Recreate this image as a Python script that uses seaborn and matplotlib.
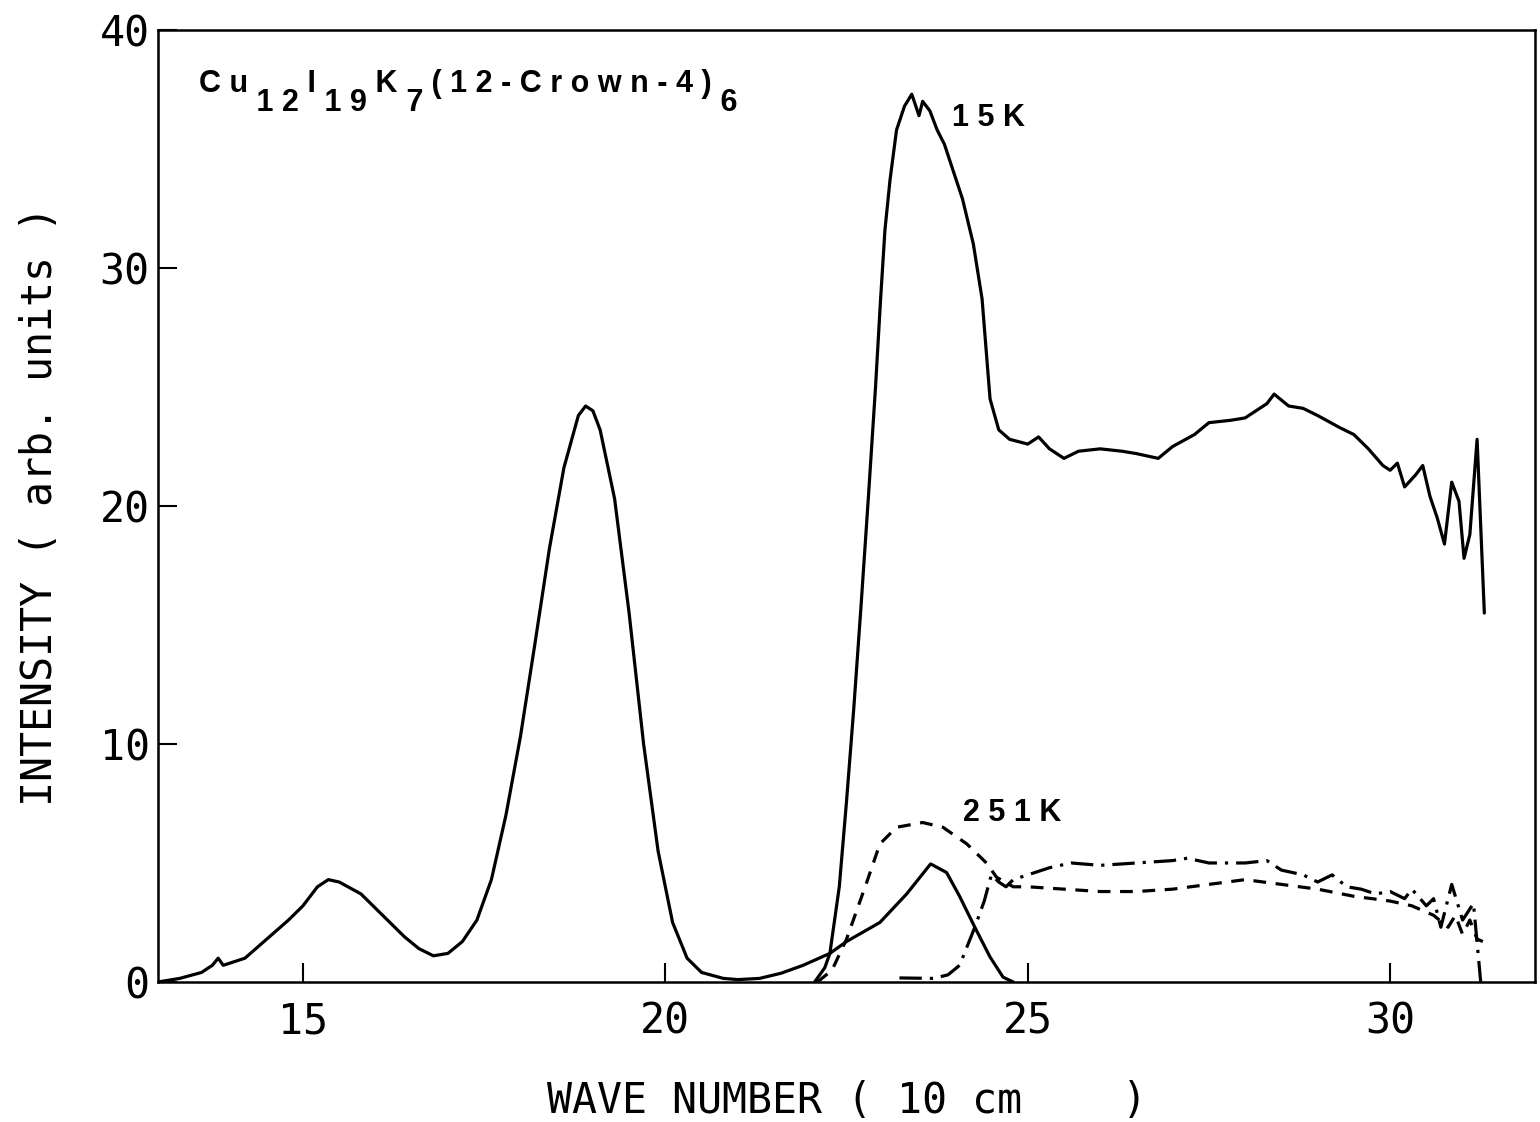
import matplotlib
matplotlib.use("Agg")
import matplotlib.pyplot as plt
import numpy as np
import seaborn as sns

# -- spectra (wave number in 10^3 cm^-1) --
x_low = [13.0, 13.3, 13.6, 13.75, 13.83, 13.9, 14.2, 14.5, 14.8, 15.0, 15.2, 15.35, 15.5,
         15.8, 16.1, 16.4, 16.6, 16.8, 17.0, 17.2, 17.4, 17.6, 17.8, 18.0, 18.2, 18.4,
         18.6, 18.8, 18.9, 19.0, 19.1, 19.3, 19.5, 19.7, 19.9, 20.1, 20.3, 20.5, 20.8,
         21.0, 21.3, 21.6, 21.9, 22.27, 22.5, 22.96, 23.33, 23.66, 23.88, 24.06, 24.27,
         24.48, 24.66, 24.8]
y_low = [0.0, 0.15, 0.4, 0.7, 1.0, 0.7, 1.0, 1.8, 2.6, 3.2, 4.0, 4.3, 4.2,
         3.7, 2.8, 1.9, 1.4, 1.1, 1.2, 1.7, 2.6, 4.3, 7.0, 10.3, 14.2, 18.2,
         21.6, 23.8, 24.2, 24.0, 23.2, 20.3, 15.5, 10.0, 5.5, 2.5, 1.0, 0.4, 0.15,
         0.1, 0.15, 0.37, 0.7, 1.2, 1.7, 2.5, 3.7, 4.96, 4.6, 3.6, 2.3,
         1.05, 0.2, 0.0]

x_15k = [22.06, 22.2, 22.27, 22.4, 22.5, 22.6, 22.7, 22.8, 22.9, 22.97, 23.03, 23.1,
         23.19, 23.3, 23.4, 23.5, 23.55, 23.65, 23.75, 23.85, 24.1, 24.25, 24.37, 24.48,
         24.6, 24.75, 25.0, 25.15, 25.3, 25.5, 25.7, 26.0, 26.3, 26.5, 26.8, 27.0, 27.3,
         27.5, 27.8, 28.0, 28.3, 28.4, 28.6, 28.8, 29.0, 29.3, 29.5, 29.7, 29.9, 30.0,
         30.1, 30.2, 30.35, 30.45, 30.55, 30.65, 30.75, 30.85, 30.95, 31.02, 31.1, 31.2,
         31.3]
y_15k = [0.0, 0.6, 1.2, 4.0, 7.6, 11.5, 15.8, 20.3, 25.0, 28.7, 31.6, 33.7,
         35.8, 36.8, 37.3, 36.4, 37.0, 36.6, 35.8, 35.2, 32.9, 31.0, 28.7, 24.5,
         23.2, 22.8, 22.6, 22.9, 22.4, 22.0, 22.3, 22.4, 22.3, 22.2, 22.0, 22.5, 23.0,
         23.5, 23.6, 23.7, 24.3, 24.7, 24.2, 24.1, 23.8, 23.3, 23.0, 22.4, 21.7, 21.5,
         21.8, 20.8, 21.3, 21.7, 20.4, 19.5, 18.4, 21.0, 20.2, 17.8, 18.8, 22.8,
         15.5]

x_251k_dash = [22.1, 22.3, 22.5, 22.78, 22.96, 23.19, 23.55, 23.83, 24.16, 24.43, 24.57,
               24.8, 25.0, 25.5, 26.0, 26.5, 27.0, 27.5, 28.0, 28.5, 29.0, 29.5, 30.0,
               30.3, 30.6, 30.8, 30.9, 31.0, 31.1, 31.2, 31.28]
y_251k_dash = [0.0, 0.5, 1.8, 4.2, 5.8, 6.5, 6.7, 6.5, 5.8, 5.0, 4.4,
               4.0, 4.0, 3.9, 3.8, 3.8, 3.9, 4.1, 4.3, 4.1, 3.9, 3.6, 3.4,
               3.2, 2.8, 2.3, 2.8, 2.0, 2.6, 1.8, 1.7]

x_251k_dot = [23.23, 23.7, 23.9, 24.06, 24.27, 24.4, 24.48, 24.5, 24.6, 24.7, 24.8, 25.0,
              25.3, 25.6, 26.0, 26.5, 27.0, 27.2, 27.5, 28.0, 28.3, 28.5, 28.8, 29.0,
              29.2, 29.4, 29.6, 29.8, 30.0, 30.2, 30.3, 30.5, 30.6, 30.7, 30.85, 31.0,
              31.15, 31.25]
y_251k_dot = [0.17, 0.15, 0.3, 0.7, 2.3, 3.4, 4.3, 4.5, 4.2, 4.0, 4.3, 4.5,
              4.8, 5.0, 4.9, 5.0, 5.1, 5.2, 5.0, 5.0, 5.1, 4.7, 4.5, 4.2,
              4.5, 4.0, 3.9, 3.7, 3.8, 3.5, 3.9, 3.2, 3.5, 2.3, 4.1, 2.6,
              3.3, 0.0]

x_ticks = [15, 20, 25, 30]
y_ticks = [0, 10, 20, 30, 40]

# formula pieces: (text, is_subscript)
formula = [("C u", False), ("1 2", True), ("I", False), ("1 9", True), ("K", False),
           ("7", True), ("( 1 2 - C r o w n - 4 )", False), ("6", True)]

sns.set_theme(style="ticks")
plt.rcParams.update({'font.family': 'DejaVu Sans Mono',
                     'text.color': 'black',
                     'axes.labelcolor': 'black',
                     'xtick.color': 'black',
                     'ytick.color': 'black',
                     'xtick.direction': 'in',
                     'ytick.direction': 'in',
                     'xtick.top': False,
                     'ytick.right': False,
                     'axes.linewidth': 1.8,
                     'axes.edgecolor': 'black'})

fig, ax = plt.subplots(figsize=(15.4, 11.22), dpi=100)
fig.subplots_adjust(left=0.1026, right=0.9968, bottom=0.1248, top=0.9733)

lw = 2.3
sns.lineplot(x=x_low, y=y_low, ax=ax, color='black', lw=lw, sort=False, estimator=None)
sns.lineplot(x=x_15k, y=y_15k, ax=ax, color='black', lw=lw, sort=False, estimator=None)
sns.lineplot(x=x_251k_dash, y=y_251k_dash, ax=ax, color='black', lw=lw,
             sort=False, estimator=None, linestyle=(0, (4, 3)))
sns.lineplot(x=x_251k_dot, y=y_251k_dot, ax=ax, color='black', lw=lw,
             sort=False, estimator=None, linestyle=(0, (7, 2.5, 1, 2.5)))

ax.set_xlim(13, 32)
ax.set_ylim(0, 40)
ax.set_xticks(x_ticks)
ax.set_yticks(y_ticks)
ax.tick_params(axis='both', which='major', direction='in', length=14, width=1.5,
               labelsize=30)
ax.tick_params(axis='x', pad=13)
ax.tick_params(axis='y', pad=6)
for s in ax.spines.values():
    s.set_visible(True)
    s.set_linewidth(1.8)

ax.set_xlabel("WAVE NUMBER ( 10 cm    )", fontsize=30, labelpad=27)
ax.set_ylabel("INTENSITY ( arb. units )", fontsize=30, labelpad=28)

# chemical formula, chained piece by piece with lowered subscripts
fp = dict(fontsize=22, fontweight='bold', family='Liberation Sans')
drop = 14  # points
prev = ax.text(13.57, 37.4, formula[0][0], ha='left', va='baseline', **fp)
prev_sub = formula[0][1]
for txt, sub in formula[1:]:
    dy = (prev_sub - sub) * drop
    prev = ax.annotate(" " + txt, xy=(1, 0), xycoords=prev, xytext=(0, dy),
                       textcoords='offset points', ha='left', va='bottom', **fp)
    prev_sub = sub

ax.text(23.95, 36.3, "1 5 K", fontsize=22, fontweight='bold', family='Liberation Sans',
        ha='left', va='center')
ax.text(24.1, 7.1, "2 5 1 K", fontsize=22, fontweight='bold', family='Liberation Sans',
        ha='left', va='center')

plt.savefig('out.png', dpi=100)
